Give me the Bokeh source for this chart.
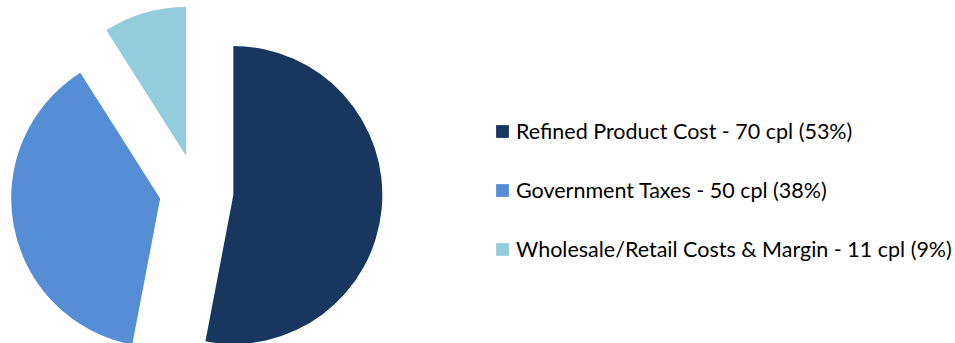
import numpy as np
from bokeh.plotting import figure
from bokeh.models import ColumnDataSource, Range1d
from bokeh.embed import file_html
from bokeh.resources import INLINE

categories = ["Refined Product Cost", "Government Taxes", "Wholesale/Retail Costs & Margin"]
values_cpl = [70, 50, 11]
shares_pct = [53, 38, 9]
colors = ["#17375E", "#558ED5", "#93CDDD"]

W, H = 955, 343
# pixel-like data space: x = screen x, y = height - screen y
p = figure(width=W, height=H, output_backend="svg", toolbar_location=None,
           x_axis_type=None, y_axis_type=None, min_border=0,
           x_range=Range1d(0, W), y_range=Range1d(0, H))
p.outline_line_color = None
p.grid.visible = False
p.background_fill_color = "white"
p.border_fill_color = "white"

cx, cy = 196, H - 191
radius = 149
explode = 37

frac = np.array(shares_pct, dtype=float) / np.sum(shares_pct)
cum_after = np.cumsum(frac)
cum_before = cum_after - frac
start = np.deg2rad(90 - 360 * cum_after)
end = np.deg2rad(90 - 360 * cum_before)
mid = (start + end) / 2

labels = [f"{c} - {v} cpl ({s}%)" for c, v, s in zip(categories, values_cpl, shares_pct)]
src = ColumnDataSource(dict(
    x=cx + explode * np.cos(mid),
    y=cy + explode * np.sin(mid),
    start=start, end=end, color=colors, label=labels,
))
p.wedge(x="x", y="y", radius=radius, start_angle="start", end_angle="end",
        fill_color="color", line_color=None, source=src, legend_field="label")

lg = p.legend[0]
lg.location = (494, 81)
lg.glyph_width = 16
lg.glyph_height = 16
lg.label_standoff = 6
lg.spacing = 33
lg.padding = 0
lg.margin = 0
lg.border_line_color = None
lg.background_fill_alpha = 0
lg.label_text_font = "Lato"
lg.label_text_font_size = "21.5px"
lg.label_text_color = "#000000"

open("out.html", "w").write(file_html(p, INLINE))
